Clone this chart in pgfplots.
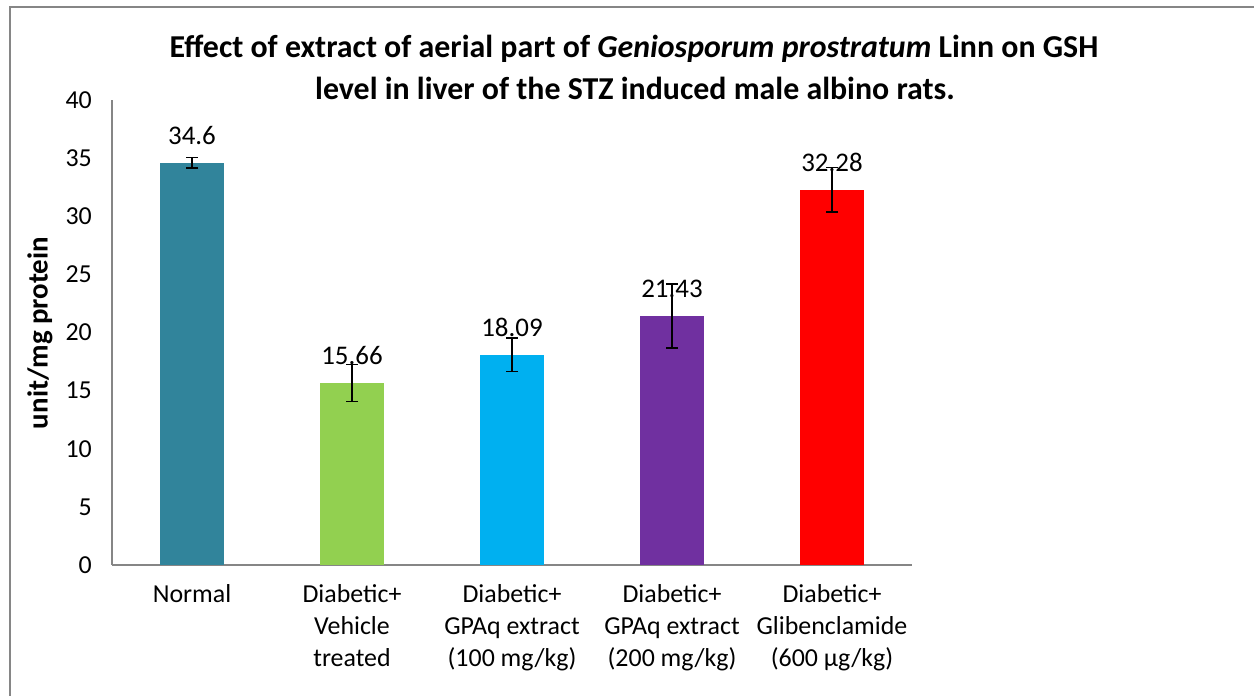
\documentclass[border=0pt]{standalone}
\usepackage{pgfplots}
\pgfplotsset{compat=1.18}
\usepackage{fontspec}
\setmainfont{Carlito}
\definecolor{cNormal}{HTML}{31849B}
\definecolor{cVeh}{HTML}{92D050}
\definecolor{cG1}{HTML}{00B0F0}
\definecolor{cG2}{HTML}{7030A0}
\definecolor{cGl}{HTML}{FF0000}
\definecolor{axgray}{HTML}{868686}
\begin{document}
\begin{tikzpicture}[x=1bp,y=1bp]
\useasboundingbox (0,0) rectangle (1254,696);
\draw[axgray, line width=2bp] (10,-5) -- (10,689) -- (1260,689);
\begin{axis}[
  at={(112bp,131bp)}, anchor=south west,
  scale only axis, width=800bp, height=465bp,
  xmin=-0.5, xmax=4.5, ymin=0, ymax=40,
  ytick={0,5,...,40},
  xtick={0,1,2,3,4},
  xticklabels={Normal, {Diabetic+\\Vehicle\\treated}, {Diabetic+\\GPAq extract\\(100 mg/kg)}, {Diabetic+\\GPAq extract\\(200 mg/kg)}, {Diabetic+\\Glibenclamide\\(600 µg/kg)}},
  axis x line*=bottom, axis y line*=left,
  axis line style={axgray, line width=1.5bp, -},
  major tick length=0pt,
  tick style={draw=none},
  /pgf/number format/assume math mode=true,
  ticklabel style={font=\fontsize{26}{32.5}\selectfont},
  yticklabel style={anchor=east, inner sep=0pt, xshift=-20bp},
  xticklabel style={align=center, anchor=north, inner sep=0pt, yshift=-19bp},
  ybar, bar width=64bp, bar shift=0pt,
  nodes near coords,
  every node near coord/.append style={font=\fontsize{27}{30}\selectfont, anchor=south, inner sep=0pt, yshift=18bp, black},
  nodes near coords={\pgfmathprintnumber[assume math mode=true]{\pgfplotspointmeta}},
  point meta=explicit symbolic,
  error bars/y dir=both, error bars/y explicit,
  error bars/error bar style={line width=1.5bp, black},
  error bars/error mark options={rotate=90, mark size=6bp, line width=1.5bp, black},
  clip=false,
]
\addplot[fill=cNormal, draw=none] coordinates {(0,34.6) +- (0,0.45) [34.6]};
\addplot[fill=cVeh, draw=none] coordinates {(1,15.66) +- (0,1.6) [15.66]};
\addplot[fill=cG1, draw=none] coordinates {(2,18.09) +- (0,1.45) [18.09]};
\addplot[fill=cG2, draw=none] coordinates {(3,21.43) +- (0,2.75) [21.43]};
\addplot[fill=cGl, draw=none] coordinates {(4,32.28) +- (0,1.9) [32.28]};
\end{axis}
\node[font=\fontsize{32}{36}\selectfont\bfseries, anchor=base] at (634,638) {Effect of extract of aerial part of \textit{Geniosporum prostratum} Linn on GSH};
\node[font=\fontsize{32}{36}\selectfont\bfseries, anchor=base] at (635,596) {level in liver of the STZ induced male albino rats.};
\node[font=\fontsize{29}{34}\selectfont\bfseries, rotate=90] at (40,363) {unit/mg protein};
\end{tikzpicture}
\end{document}
